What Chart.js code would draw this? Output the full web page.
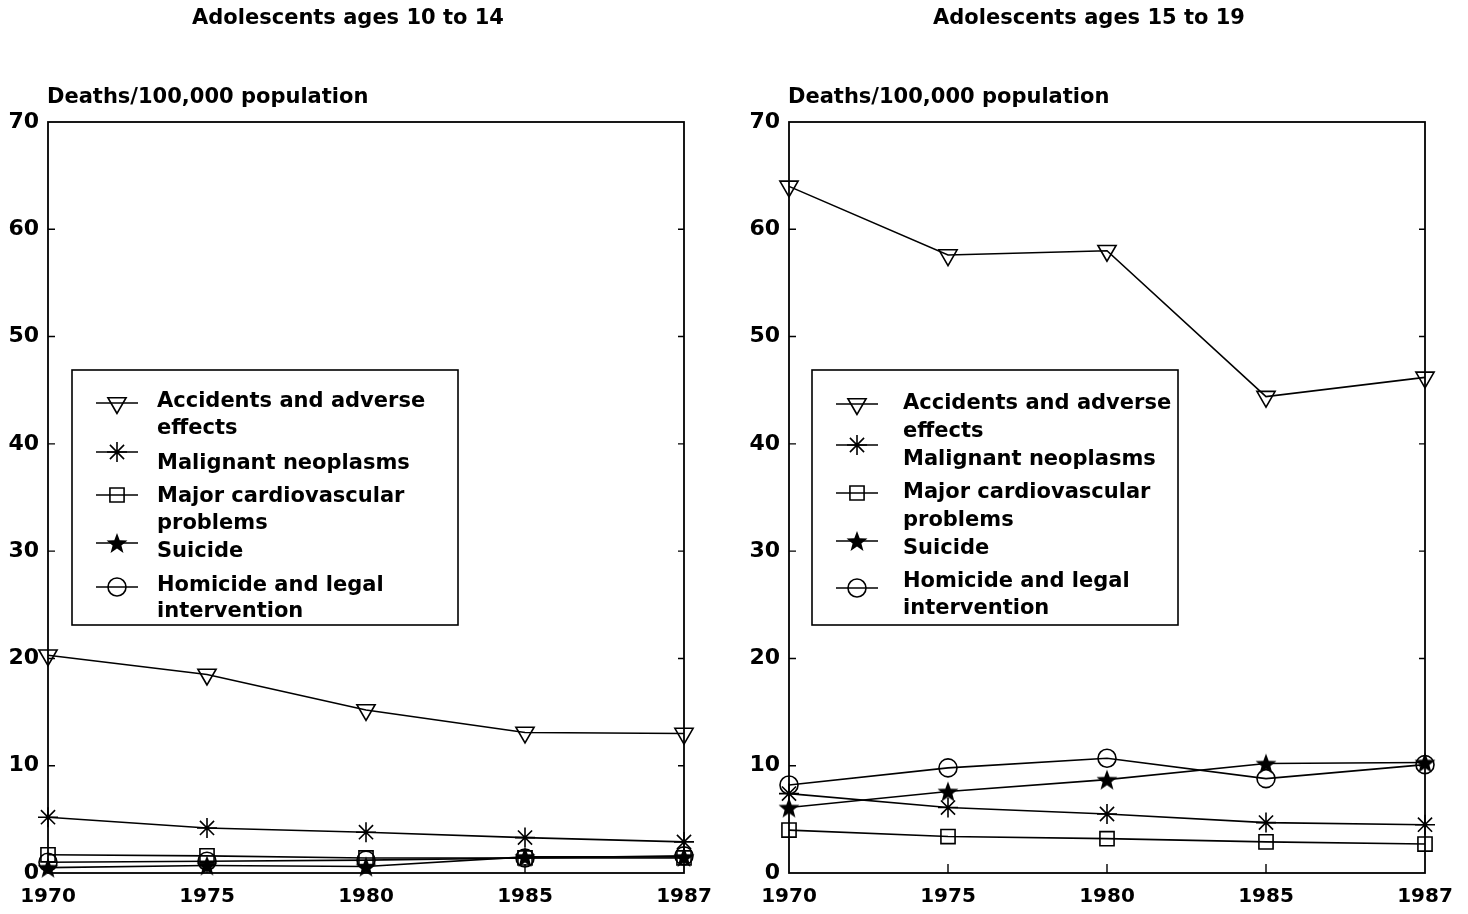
<!DOCTYPE html>
<html>
<head>
<meta charset="utf-8">
<script src="https://cdn.jsdelivr.net/npm/chart.js@4.4.1/dist/chart.umd.min.js"></script>
<style>
  html, body { margin: 0; padding: 0; background: #fff; }
  #wrap { position: relative; width: 1468px; height: 914px; }
  .panel { position: absolute; top: 0; width: 734px; height: 914px; }
</style>
</head>
<body>
<div id="wrap">
  <div class="panel" style="left:0"><canvas id="chart-10-14"></canvas></div>
  <div class="panel" style="left:734px"><canvas id="chart-15-19"></canvas></div>
</div>
<script>
// Data (deaths per 100,000 population)
const years = ['1970', '1975', '1980', '1985', '1987'];
const yTicks = [0, 10, 20, 30, 40, 50, 60, 70];

const seriesNames = [
    ['Accidents and adverse', 'effects'],
    ['Malignant neoplasms'],
    ['Major cardiovascular', 'problems'],
    ['Suicide'],
    ['Homicide and legal', 'intervention']
];

// ages 10 to 14
const accidents1014 = [20.3, 18.5, 15.2, 13.1, 13.0];
const neoplasms1014 = [5.2, 4.2, 3.8, 3.3, 2.9];
const cardio1014 = [1.7, 1.6, 1.4, 1.4, 1.4];
const suicide1014 = [0.5, 0.7, 0.6, 1.5, 1.5];
const homicide1014 = [1.0, 1.1, 1.2, 1.4, 1.6];

// ages 15 to 19
const accidents1519 = [64.0, 57.6, 58.0, 44.4, 46.2];
const neoplasms1519 = [7.4, 6.1, 5.5, 4.7, 4.5];
const cardio1519 = [4.0, 3.4, 3.2, 2.9, 2.7];
const suicide1519 = [6.1, 7.6, 8.7, 10.2, 10.3];
const homicide1519 = [8.2, 9.8, 10.7, 8.8, 10.1];

const FONT = '"DejaVu Sans", Verdana, sans-serif';

// filled five point star for suicide
function makeStar(size) {
    const c = document.createElement('canvas');
    c.width = size; c.height = size;
    const g = c.getContext('2d');
    const cx = size / 2, cy = size / 2 + 1, ro = size / 2, ri = ro * 0.42;
    g.beginPath();
    for (let i = 0; i < 10; i++) {
        const r = i % 2 === 0 ? ro : ri;
        const a = -Math.PI / 2 + i * Math.PI / 5;
        g.lineTo(cx + r * Math.cos(a), cy + r * Math.sin(a));
    }
    g.closePath();
    g.fillStyle = '#000';
    g.fill();
    return c;
}
const starImg = makeStar(22);

// marker styles for the five series
const markers = [
    { pointStyle: 'triangle', rotation: 180, radius: 10.5 },
    { pointStyle: 'star', rotation: 0, radius: 10 },
    { pointStyle: 'rect', rotation: 0, radius: 10 },
    { pointStyle: starImg, rotation: 0, radius: 11 },
    { pointStyle: 'circle', rotation: 0, radius: 9 }
];

function makeDataset(name, values, m) {
    return {
        label: name.join(' '),
        data: values,
        borderColor: '#000',
        borderWidth: 1.6,
        backgroundColor: 'rgba(0,0,0,0)',
        pointStyle: m.pointStyle,
        pointRotation: m.rotation,
        pointRadius: m.radius,
        pointBorderWidth: 1.6,
        pointBorderColor: '#000',
        pointBackgroundColor: 'rgba(0,0,0,0)',
        tension: 0,
        clip: false
    };
}

// frame, inner ticks, titles and the boxed legend
const decorPlugin = {
    id: 'decor',
    afterDraw(chart, args, opts) {
        const ctx = chart.ctx;
        const a = chart.chartArea;
        const xs = chart.scales.x, ys = chart.scales.y;
        ctx.save();
        ctx.strokeStyle = '#000';
        ctx.lineWidth = 1.8;
        ctx.strokeRect(a.left, a.top, a.right - a.left, a.bottom - a.top);

        ctx.lineWidth = 1.4;
        yTicks.slice(1, -1).forEach(v => {
            const y = ys.getPixelForValue(v);
            ctx.beginPath();
            ctx.moveTo(a.left, y); ctx.lineTo(a.left + 7, y);
            ctx.moveTo(a.right, y); ctx.lineTo(a.right - 6, y);
            ctx.stroke();
        });
        years.slice(1, -1).forEach((yr, i) => {
            const x = xs.getPixelForValue(i + 1);
            ctx.beginPath();
            ctx.moveTo(x, a.bottom); ctx.lineTo(x, a.bottom - 9);
            ctx.stroke();
        });

        ctx.fillStyle = '#000';
        ctx.textBaseline = 'middle';
        ctx.font = 'bold 21px ' + FONT;
        ctx.textAlign = 'center';
        ctx.fillText(opts.title, (a.left + a.right) / 2 - 18, 19);
        ctx.textAlign = 'left';
        ctx.fillText('Deaths/100,000 population', a.left - 1, 98);

        // legend box
        const b = opts.box;
        const bx = a.left + b.dx, by = a.top + b.dy;
        ctx.lineWidth = 1.6;
        ctx.strokeRect(bx, by, b.w, b.h);
        chart.data.datasets.forEach((ds, i) => {
            const row = b.rows[i];
            const sy = by + row.sym;
            ctx.strokeStyle = '#000';
            ctx.lineWidth = 1.6;
            ctx.beginPath();
            ctx.moveTo(bx + 24, sy); ctx.lineTo(bx + 66, sy);
            ctx.stroke();
            ctx.fillStyle = 'rgba(0,0,0,0)';
            Chart.helpers.drawPoint(ctx, {
                pointStyle: markers[i].pointStyle,
                rotation: markers[i].rotation,
                radius: markers[i].radius,
                borderWidth: 1.6
            }, bx + 45, sy);
            ctx.fillStyle = '#000';
            ctx.font = 'bold 21px ' + FONT;
            seriesNames[i].forEach((line, k) => {
                ctx.fillText(line, bx + b.tx, by + row.text[k]);
            });
        });
        ctx.restore();
    }
};

function buildChart(id, title, series, padRight, yWidth, box) {
    const ctx = document.getElementById(id).getContext('2d');
    return new Chart(ctx, {
        type: 'line',
        data: {
            labels: years,
            datasets: series.map((vals, i) => makeDataset(seriesNames[i], vals, markers[i]))
        },
        options: {
            responsive: true,
            maintainAspectRatio: false,
            animation: false,
            layout: { padding: { top: 122, left: 0, right: padRight, bottom: 0 } },
            scales: {
                x: {
                    type: 'category',
                    offset: false,
                    grid: { display: false, drawTicks: false },
                    border: { display: false },
                    ticks: {
                        color: '#000',
                        padding: 12,
                        maxRotation: 0,
                        autoSkip: false,
                        font: { family: FONT, size: 20, weight: 'bold' }
                    },
                    afterFit(scale) { scale.height = 41; }
                },
                y: {
                    min: 0,
                    max: 70,
                    grid: { display: false, drawTicks: false },
                    border: { display: false },
                    ticks: {
                        stepSize: 10,
                        color: '#000',
                        padding: 9,
                        font: { family: FONT, size: 22, weight: 'bold' }
                    },
                    afterFit(scale) { scale.width = yWidth; }
                }
            },
            plugins: {
                legend: { display: false },
                tooltip: { enabled: false },
                decor: { title: title, box: box }
            }
        },
        plugins: [decorPlugin]
    });
}

buildChart('chart-10-14', 'Adolescents ages 10 to 14',
    [accidents1014, neoplasms1014, cardio1014, suicide1014, homicide1014],
    50, 48,
    {
        dx: 24, dy: 248, w: 386, h: 255, tx: 85,
        rows: [
            { sym: 33, text: [32, 59] },
            { sym: 82, text: [94] },
            { sym: 125, text: [127, 154] },
            { sym: 173, text: [182] },
            { sym: 217, text: [216, 242] }
        ]
    });

buildChart('chart-15-19', 'Adolescents ages 15 to 19',
    [accidents1519, neoplasms1519, cardio1519, suicide1519, homicide1519],
    43, 55,
    {
        dx: 23, dy: 248, w: 366, h: 255, tx: 91,
        rows: [
            { sym: 34, text: [34, 62] },
            { sym: 75, text: [90] },
            { sym: 123, text: [123, 151] },
            { sym: 171, text: [179] },
            { sym: 218, text: [212, 239] }
        ]
    });
</script>
</body>
</html>
